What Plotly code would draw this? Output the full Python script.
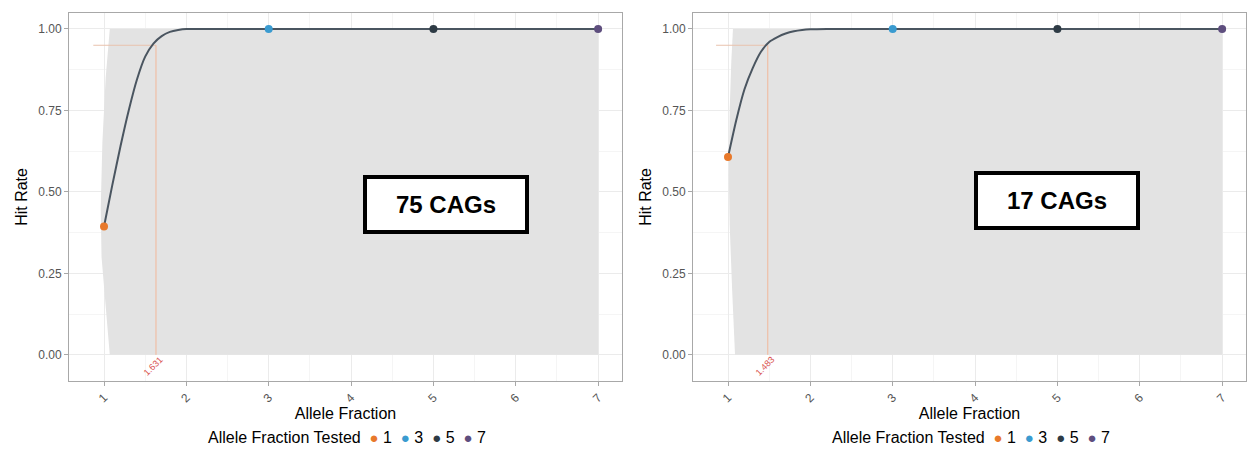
import plotly.graph_objects as go

# ---------------- data ----------------
allele_tested = [1, 3, 5, 7]
legend_labels = ["1", "3", "5", "7"]
point_colors = ["#E8792B", "#3A9BD0", "#2E3B45", "#5E4E7E"]
legend_title = "Allele Fraction Tested"

left_hit = [0.394, 1.0, 1.0, 1.0]
right_hit = [0.607, 1.0, 1.0, 1.0]

left_curve_x = [1.0, 1.1, 1.2, 1.3, 1.4, 1.5, 1.6, 1.7, 1.8, 1.9, 2.0, 2.2, 3, 5, 7]
left_curve_y = [0.394, 0.52, 0.64, 0.75, 0.845, 0.915, 0.955, 0.978, 0.991, 0.997, 1.0, 1.0, 1.0, 1.0, 1.0]
right_curve_x = [1.0, 1.1, 1.2, 1.3, 1.4, 1.5, 1.6, 1.7, 1.8, 1.9, 2.0, 2.2, 3, 5, 7]
right_curve_y = [0.607, 0.72, 0.815, 0.88, 0.93, 0.96, 0.975, 0.986, 0.993, 0.997, 0.999, 1.0, 1.0, 1.0, 1.0]

# confidence ribbon outline (x, y)
left_rib_x = [1.07, 7, 7, 1.07, 1.02, 0.97, 0.96, 0.98, 1.02, 1.07]
left_rib_y = [1.0, 1.0, 0.0, 0.0, 0.15, 0.3, 0.45, 0.65, 0.85, 1.0]
right_rib_x = [1.06, 7, 7, 1.085, 1.05, 1.02, 1.01, 1.02, 1.04, 1.06]
right_rib_y = [1.0, 1.0, 0.0, 0.0, 0.2, 0.4, 0.55, 0.75, 0.9, 1.0]

target_rate = 0.95
left_threshold = 1.631
right_threshold = 1.483
left_threshold_label = "1.631"
right_threshold_label = "1.483"
hline_start = [0.87, 0.855]

box_texts = ["75 CAGs", "17 CAGs"]
box_pos = [(5.15, 0.462), (4.99, 0.475)]

x_ticks = [1, 2, 3, 4, 5, 6, 7]
y_ticks = [0.0, 0.25, 0.5, 0.75, 1.0]
y_ticklabels = ["0.00", "0.25", "0.50", "0.75", "1.00"]

FONT = "Liberation Sans, Arial, sans-serif"

fig = go.Figure()

panels = [
    dict(xa="x", ya="y", hit=left_hit, cx=left_curve_x, cy=left_curve_y,
         rx=left_rib_x, ry=left_rib_y, thr=left_threshold, thr_lab=left_threshold_label,
         hs=hline_start[0], box=box_texts[0], bp=box_pos[0], lx=0.278),
    dict(xa="x2", ya="y2", hit=right_hit, cx=right_curve_x, cy=right_curve_y,
         rx=right_rib_x, ry=right_rib_y, thr=right_threshold, thr_lab=right_threshold_label,
         hs=hline_start[1], box=box_texts[1], bp=box_pos[1], lx=0.778),
]

# legend-like caption built from the categories and colours
legend_parts = [legend_title]
for col, lab in zip(point_colors, legend_labels):
    legend_parts.append("<span style='color:%s;font-size:15px'>●</span>&nbsp;%s" % (col, lab))
legend_text = "&nbsp;&nbsp;".join(legend_parts)

annotations = []
for p in panels:
    fig.add_trace(go.Scatter(x=p["rx"], y=p["ry"], fill="toself", mode="lines",
                             line=dict(width=0), fillcolor="#e3e3e3",
                             xaxis=p["xa"], yaxis=p["ya"], showlegend=False, hoverinfo="skip"))
    fig.add_trace(go.Scatter(x=[p["thr"], p["thr"]], y=[0, target_rate], mode="lines",
                             line=dict(color="#f2b79a", width=1),
                             xaxis=p["xa"], yaxis=p["ya"], showlegend=False, hoverinfo="skip"))
    fig.add_trace(go.Scatter(x=[p["hs"], p["thr"]], y=[target_rate, target_rate], mode="lines",
                             line=dict(color="#e9c2ad", width=1),
                             xaxis=p["xa"], yaxis=p["ya"], showlegend=False, hoverinfo="skip"))
    fig.add_trace(go.Scatter(x=p["cx"], y=p["cy"], mode="lines", line_shape="spline",
                             line=dict(color="#4a5560", width=2, smoothing=0.6),
                             xaxis=p["xa"], yaxis=p["ya"], showlegend=False, hoverinfo="skip"))
    for xv, yv, col, lab in zip(allele_tested, p["hit"], point_colors, legend_labels):
        fig.add_trace(go.Scatter(x=[xv], y=[yv], mode="markers",
                                 marker=dict(color=col, size=8),
                                 name=lab, showlegend=False,
                                 xaxis=p["xa"], yaxis=p["ya"], cliponaxis=False))
    annotations.append(dict(x=p["thr"] - 0.03, y=-0.035, xref=p["xa"], yref=p["ya"],
                            text=p["thr_lab"], textangle=-45, showarrow=False,
                            font=dict(family=FONT, size=9, color="#d9534f")))
    annotations.append(dict(x=p["bp"][0], y=p["bp"][1], xref=p["xa"], yref=p["ya"],
                            text="<b>" + p["box"] + "</b>", showarrow=False,
                            font=dict(family=FONT, size=24, color="black"),
                            bgcolor="white", bordercolor="black", borderwidth=4,
                            borderpad=0, width=158, height=51))
    annotations.append(dict(x=p["lx"], y=0.058, xref="paper", yref="paper",
                            xanchor="center", yanchor="middle", showarrow=False,
                            text=legend_text,
                            font=dict(family=FONT, size=16, color="black")))

axis_common = dict(showline=True, linecolor="#a8a8a8", linewidth=1, mirror=True,
                   ticks="outside", ticklen=4, tickcolor="#a8a8a8",
                   gridcolor="#ebebeb", gridwidth=1, zeroline=False,
                   tickfont=dict(family=FONT, size=12, color="#555555"))

xa = dict(axis_common, range=[0.575, 7.29], tickvals=x_ticks, tickangle=-45,
          title=dict(text="Allele Fraction", font=dict(family=FONT, size=16, color="black"),
                     standoff=2),
          minor=dict(showgrid=True, gridcolor="#f5f5f5", dtick=0.5, tick0=0.5))
ya = dict(axis_common, range=[-0.08, 1.049], tickvals=y_ticks, ticktext=y_ticklabels,
          title=dict(text="Hit Rate", font=dict(family=FONT, size=16, color="black"),
                     standoff=6),
          minor=dict(showgrid=True, gridcolor="#f5f5f5", dtick=0.125, tick0=0.125))

fig.update_layout(
    width=1248, height=464,
    margin=dict(l=0, r=0, t=0, b=0),
    paper_bgcolor="white", plot_bgcolor="white",
    showlegend=False,
    xaxis=dict(xa, domain=[0.0553, 0.4984], anchor="y"),
    yaxis=dict(ya, domain=[0.179, 0.972], anchor="x"),
    xaxis2=dict(xa, domain=[0.5553, 0.9984], anchor="y2"),
    yaxis2=dict(ya, domain=[0.179, 0.972], anchor="x2"),
    annotations=annotations,
    font=dict(family=FONT),
)

fig.write_html("out.html")
